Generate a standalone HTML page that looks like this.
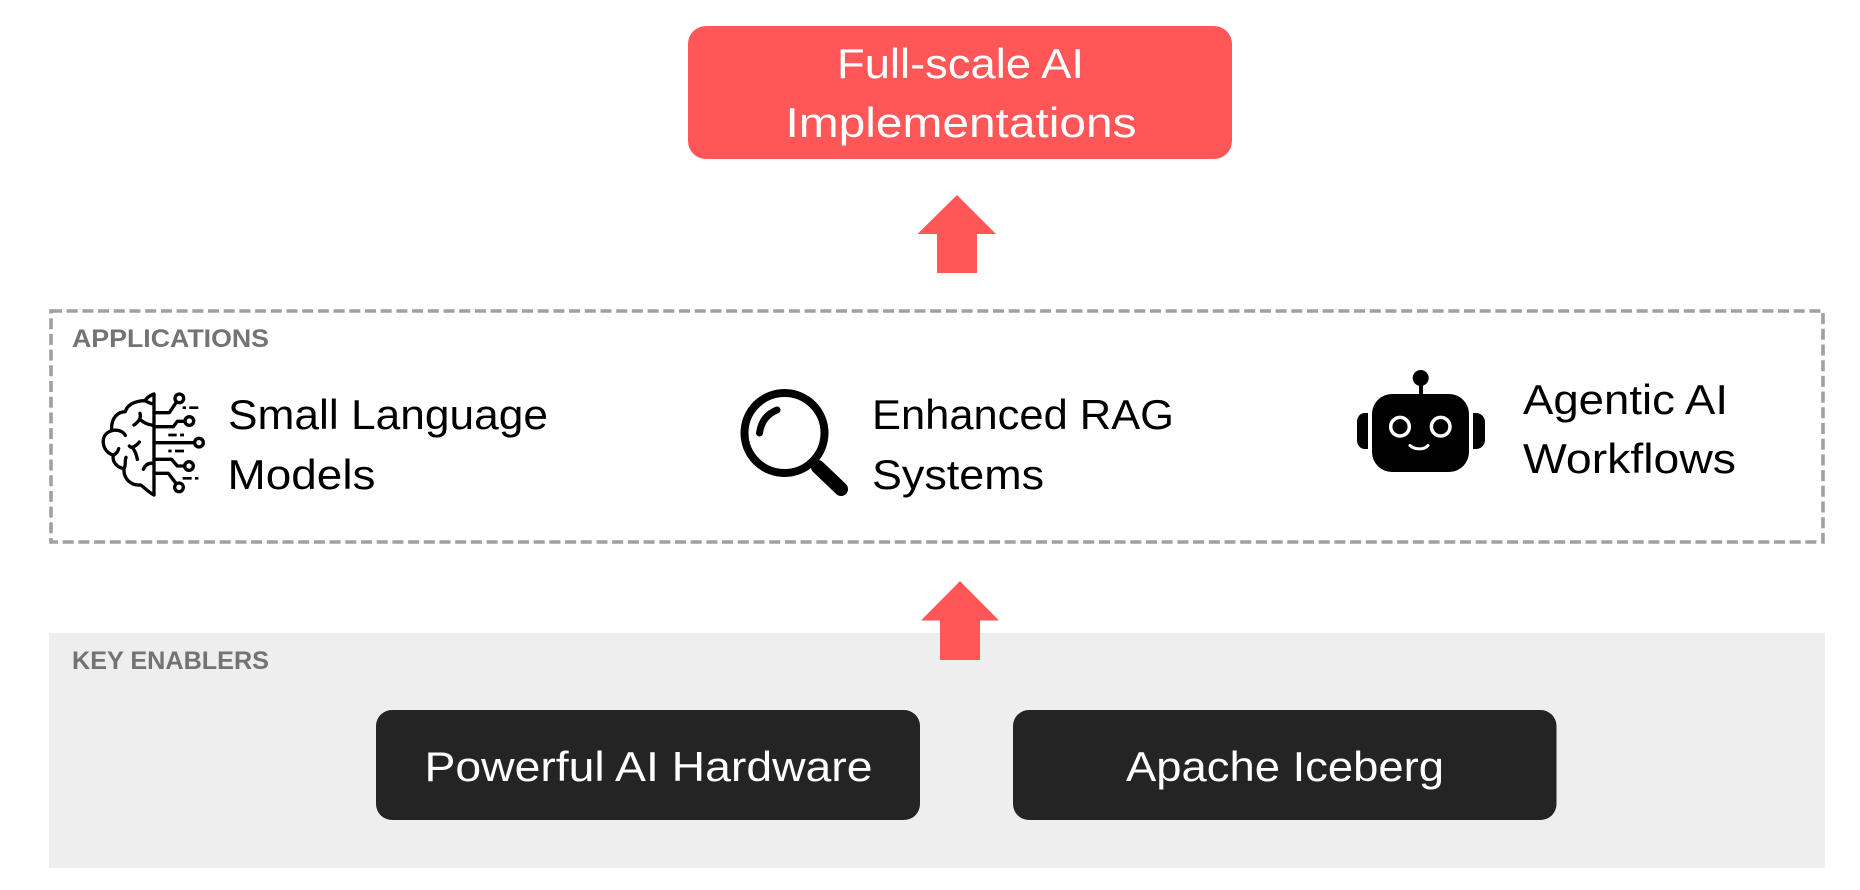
<!DOCTYPE html>
<html lang="en">
<head>
<meta charset="utf-8">
<title>AI Stack</title>
<style>
html,body{margin:0;padding:0;background:#fff;width:1860px;height:890px;overflow:hidden}
svg{display:block}
text{font-family:"Liberation Sans",sans-serif}
</style>
</head>
<body>
<svg width="1860" height="890" viewBox="0 0 1860 890" xmlns="http://www.w3.org/2000/svg">
<rect width="1860" height="890" fill="#fff"/>

<!-- Top box -->
<rect x="688" y="26" width="544" height="133" rx="18" fill="#ff5757"/>
<text x="837" y="78" font-size="42" fill="#fff" textLength="247" lengthAdjust="spacingAndGlyphs">Full-scale AI</text>
<text x="785.5" y="137" font-size="42" fill="#fff" textLength="351" lengthAdjust="spacingAndGlyphs">Implementations</text>

<!-- Arrow 1 -->
<polygon points="957,195 996,234 977,234 977,273 937,273 937,234 917.5,234" fill="#ff5757"/>

<!-- Applications -->
<rect x="51" y="311" width="1772" height="231" fill="none" stroke="#a0a0a0" stroke-width="3.6" stroke-dasharray="11 4.7"/>
<text x="72" y="347" font-size="25" font-weight="bold" fill="#737373" textLength="197" lengthAdjust="spacingAndGlyphs">APPLICATIONS</text>

<!-- Brain icon -->
<g transform="translate(90 380) scale(.3333)" fill="none" stroke="#000" stroke-width="10" stroke-linecap="round" stroke-linejoin="round">
  <path d="M192 42V345" stroke-linecap="butt"/>
  <path d="M192 42C180 46 170 54 165 62C140 62 112 72 106 95C85 95 62 112 65 152C46 158 38 172 40 190C42 208 55 222 70 225C66 245 80 262 102 266C100 295 122 318 152 315C165 325 178 338 192 345"/>
  <path d="M165 62C172 66 180 70 190 72"/>
  <path d="M150 100C154 115 146 125 132 135M150 118C160 128 172 134 190 136"/>
  <path d="M65 152C80 148 98 152 106 166"/>
  <path d="M70 225C78 222 84 214 86 206"/>
  <path d="M102 266C108 258 104 240 108 232"/>
  <path d="M118 198C126 208 140 196 148 186M128 204C136 214 140 226 142 238"/>
  <path d="M190 250C176 248 166 254 160 268"/>
  <path d="M192 98H238L258 68"/>
  <circle cx="268" cy="55" r="13"/>
  <path d="M192 140H250L262 124H285"/>
  <circle cx="298" cy="123" r="13"/>
  <path d="M192 188H312"/>
  <circle cx="327" cy="188" r="13"/>
  <path d="M192 238H245L262 258H285"/>
  <circle cx="297" cy="258" r="13"/>
  <path d="M192 280H235L258 310"/>
  <circle cx="267" cy="322" r="13"/>
  <g stroke-linecap="butt" stroke-width="8">
    <path d="M278 83H288M298 83H325M235 165H260M270 165H282M235 213H245M255 213H282M278 295H305M315 295H325"/>
  </g>
</g>
<text x="228" y="429" font-size="42" fill="#000" textLength="320" lengthAdjust="spacingAndGlyphs">Small Language</text>
<text x="227.5" y="489" font-size="42" fill="#000" textLength="148" lengthAdjust="spacingAndGlyphs">Models</text>

<!-- Magnifier icon -->
<g fill="none" stroke="#000" stroke-linecap="round">
  <circle cx="784.5" cy="433" r="40" stroke-width="8"/>
  <path d="M759.5 433C761 422 767 414 777 410" stroke-width="7"/>
  <path d="M812 463L820 470" stroke-width="8" stroke-linecap="butt"/>
  <path d="M818 467L841 489" stroke-width="14"/>
</g>
<text x="872" y="429" font-size="42" fill="#000" textLength="302" lengthAdjust="spacingAndGlyphs">Enhanced RAG</text>
<text x="872" y="489" font-size="42" fill="#000" textLength="172" lengthAdjust="spacingAndGlyphs">Systems</text>

<!-- Robot icon -->
<circle cx="1420.7" cy="378" r="8" fill="#000"/>
<rect x="1419" y="380" width="4" height="16" fill="#000"/>
<rect x="1372" y="394" width="97" height="78" rx="20" fill="#000"/>
<path d="M1368 413V449H1365C1360 449 1357 445 1357 440V422C1357 417 1360 413 1365 413Z" fill="#000"/>
<path d="M1473 413V449H1476C1481 449 1485 445 1485 440V422C1485 417 1481 413 1476 413Z" fill="#000"/>
<circle cx="1400" cy="426.7" r="9.3" fill="none" stroke="#fff" stroke-width="3.5"/>
<circle cx="1440.7" cy="426.7" r="9.3" fill="none" stroke="#fff" stroke-width="3.5"/>
<path d="M1410 445.5C1415 450 1424 450 1428 445.5" fill="none" stroke="#fff" stroke-width="3" stroke-linecap="round"/>
<text x="1523" y="414" font-size="42" fill="#000" textLength="205" lengthAdjust="spacingAndGlyphs">Agentic AI</text>
<text x="1523" y="473" font-size="42" fill="#000" textLength="213" lengthAdjust="spacingAndGlyphs">Workflows</text>

<!-- Key enablers -->
<rect x="49" y="633" width="1776" height="235" fill="#eeeeee"/>
<text x="72" y="669" font-size="25" font-weight="bold" fill="#737373" textLength="197" lengthAdjust="spacingAndGlyphs">KEY ENABLERS</text>

<!-- Arrow 2 -->
<polygon points="960,581 999,620.5 980,620.5 980,660 940,660 940,620.5 921,620.5" fill="#ff5757"/>

<rect x="376" y="710" width="544" height="110" rx="16" fill="#242424"/>
<text x="424.5" y="781" font-size="42" fill="#fff" textLength="448" lengthAdjust="spacingAndGlyphs">Powerful AI Hardware</text>
<rect x="1013" y="710" width="543.5" height="110" rx="16" fill="#242424"/>
<text x="1126" y="781" font-size="42" fill="#fff" textLength="318" lengthAdjust="spacingAndGlyphs">Apache Iceberg</text>
</svg>
</body>
</html>
